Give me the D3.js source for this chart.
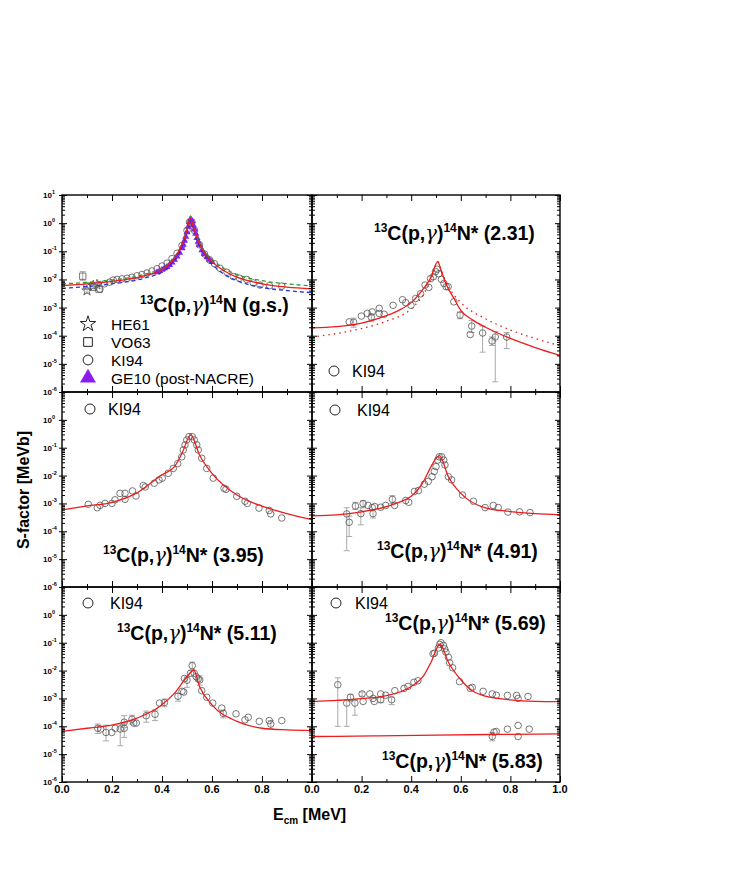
<!DOCTYPE html>
<html>
<head>
<meta charset="utf-8">
<script src="https://cdn.jsdelivr.net/npm/d3@7"></script>
<style>
  body { margin: 0; background: #fff; }
  text { font-family: Arial, "Liberation Sans", sans-serif; }
</style>
</head>
<body>
<svg id="chart"></svg>
<script>
// ---- data (E_cm in MeV, S-factor in MeV b) ----
// ground state panel
const gsFitRed = [[0, 6.0e-3], [0.1, 7.0e-3], [0.2, 8.5e-3], [0.3, 1.15e-2], [0.35, 1.5e-2], [0.4, 2.2e-2], [0.44, 4.5e-2], [0.47, 0.11], [0.49, 0.3], [0.5, 0.6], [0.513, 1.5], [0.525, 0.75], [0.54, 0.3], [0.56, 0.12], [0.6, 4.3e-2], [0.65, 2.0e-2], [0.7, 1.2e-2], [0.8, 7.0e-3], [0.9, 5.3e-3], [1.0, 4.6e-3]];
const gsFitGreen = [[0, 7.0e-3], [0.1, 7.8e-3], [0.2, 9.5e-3], [0.3, 1.3e-2], [0.35, 1.7e-2], [0.4, 2.5e-2], [0.44, 5.0e-2], [0.47, 0.12], [0.49, 0.33], [0.5, 0.65], [0.513, 1.7], [0.525, 0.85], [0.54, 0.35], [0.56, 0.14], [0.6, 5.2e-2], [0.65, 2.4e-2], [0.7, 1.5e-2], [0.8, 9.0e-3], [0.9, 7.0e-3], [1.0, 5.8e-3]];
const gsFitBlue = [[0, 4.8e-3], [0.1, 5.6e-3], [0.2, 7.0e-3], [0.3, 9.5e-3], [0.35, 1.25e-2], [0.4, 1.8e-2], [0.44, 3.7e-2], [0.47, 9.0e-2], [0.49, 0.25], [0.5, 0.5], [0.513, 1.35], [0.525, 0.65], [0.54, 0.25], [0.56, 0.1], [0.6, 3.5e-2], [0.65, 1.5e-2], [0.7, 9.0e-3], [0.8, 5.2e-3], [0.9, 4.0e-3], [1.0, 3.4e-3]];
const gsHE61 = [[0.10, 4.0e-3, 3.2e-3, 5.0e-3], [0.125, 6.0e-3], [0.14, 6.5e-3]];
const gsVO63 = [[0.083, 1.3e-2, 9.0e-3, 1.9e-2], [0.10, 5.8e-3], [0.124, 5.2e-3], [0.148, 4.5e-3]];
const gsKI94 = [[0.152, 4.5e-3], [0.17, 7e-3], [0.19, 8e-3], [0.205, 9.5e-3], [0.22, 1.0e-2], [0.24, 1.05e-2], [0.26, 1.1e-2], [0.28, 1.2e-2], [0.30, 1.35e-2], [0.32, 1.5e-2], [0.34, 1.7e-2], [0.36, 2.0e-2], [0.38, 2.4e-2], [0.40, 3.0e-2], [0.42, 3.8e-2], [0.44, 5.5e-2], [0.46, 8.5e-2], [0.48, 0.16], [0.50, 0.55], [0.51, 1.1], [0.52, 1.1], [0.53, 0.55], [0.55, 0.17], [0.57, 8e-2], [0.59, 5e-2], [0.61, 3.6e-2], [0.632, 2.5e-2], [0.66, 1.8e-2], [0.685, 1.27e-2], [0.71, 1.1e-2], [0.739, 1.0e-2], [0.765, 7.5e-3], [0.792, 6.3e-3], [0.83, 6.0e-3], [0.879, 5.8e-3]];
const gsGE10 = [[0.38, 1.8e-2], [0.39, 2.0e-2], [0.40, 2.2e-2], [0.41, 2.5e-2], [0.42, 2.8e-2], [0.43, 3.3e-2], [0.44, 4.0e-2], [0.45, 5.0e-2], [0.46, 6.5e-2], [0.47, 9.0e-2], [0.48, 0.13], [0.485, 0.17], [0.49, 0.24], [0.495, 0.33], [0.50, 0.48], [0.505, 0.75], [0.51, 1.1], [0.515, 1.4], [0.52, 1.2], [0.525, 0.85], [0.53, 0.6], [0.535, 0.42], [0.54, 0.3], [0.545, 0.22], [0.55, 0.17], [0.56, 0.11], [0.57, 8e-2], [0.58, 6.2e-2], [0.59, 5e-2], [0.6, 4.2e-2]];

// 2.31 MeV state
const fit231 = [[0, 1.9e-4], [0.1, 2.1e-4], [0.2, 2.8e-4], [0.3, 5.2e-4], [0.35, 8e-4], [0.4, 1.5e-3], [0.45, 4.8e-3], [0.48, 1.2e-2], [0.507, 4.3e-2], [0.52, 2.2e-2], [0.54, 7e-3], [0.57, 2.3e-3], [0.6, 8e-4], [0.65, 3.5e-4], [0.7, 2.0e-4], [0.8, 8e-5], [0.9, 3.8e-5], [1.0, 2.0e-5]];
const fit231Dot = [[0, 9e-5], [0.1, 1.2e-4], [0.2, 1.8e-4], [0.3, 3.3e-4], [0.4, 9e-4], [0.45, 3e-3], [0.48, 1.0e-2], [0.507, 4.3e-2], [0.52, 2.3e-2], [0.54, 8e-3], [0.57, 3e-3], [0.6, 1.5e-3], [0.7, 4e-4], [0.8, 1.6e-4], [0.9, 8e-5], [1.0, 4.4e-5]];
const ki231 = [[0.150, 3.1e-4], [0.168, 3.0e-4, 2.0e-4, 4.2e-4], [0.199, 5.0e-4], [0.223, 6.2e-4], [0.239, 4.6e-4, 3.3e-4, 6e-4], [0.243, 7.0e-4], [0.271, 9.4e-4], [0.271, 6.2e-4], [0.291, 5.8e-4], [0.327, 1.2e-3], [0.365, 1.9e-3], [0.378, 1.5e-3], [0.399, 1.2e-3], [0.418, 2.1e-3], [0.438, 3.1e-3], [0.456, 6.3e-3], [0.471, 5.2e-3], [0.478, 1.07e-2], [0.489, 1.25e-2], [0.498, 1.9e-2], [0.505, 2.3e-2], [0.511, 1.6e-2], [0.522, 1.0e-2], [0.532, 7.2e-3], [0.541, 5.5e-3], [0.549, 5.5e-3], [0.572, 1.6e-3], [0.597, 5.4e-4, 4.0e-4, 7e-4], [0.644, 2.2e-4, 1.3e-4, 3.5e-4], [0.638, 1.1e-4], [0.688, 1.25e-4, 2.6e-5, 2.2e-4], [0.726, 6.5e-5, 4.5e-5, 9e-5], [0.739, 9e-5, 2.3e-6, 1.4e-4], [0.785, 9e-5, 3.5e-5, 1.3e-4]];

// 3.95 MeV state
const fit395 = [[0, 5.9e-4], [0.1, 8.1e-4], [0.2, 1.1e-3], [0.3, 2.4e-3], [0.4, 1.07e-2], [0.45, 2.1e-2], [0.48, 6.3e-2], [0.515, 0.29], [0.55, 5.5e-2], [0.6, 1.2e-2], [0.7, 2.0e-3], [0.8, 8.0e-4], [0.9, 4.3e-4], [1.0, 2.6e-4]];
const ki395 = [[0.105, 9.3e-4], [0.141, 7e-4], [0.152, 8.5e-4], [0.172, 1.0e-3], [0.2, 1.0e-3], [0.212, 1.35e-3], [0.232, 2.3e-3], [0.252, 2.3e-3], [0.252, 1.4e-3], [0.282, 2.8e-3], [0.296, 1.85e-3], [0.325, 4.4e-3], [0.333, 3.9e-3], [0.369, 5.3e-3], [0.388, 7e-3], [0.401, 8.1e-3], [0.425, 1.2e-2], [0.445, 1.8e-2], [0.463, 2.7e-2], [0.479, 4.7e-2], [0.485, 8.3e-2], [0.492, 0.126], [0.499, 0.19], [0.508, 0.25], [0.521, 0.25], [0.529, 0.19], [0.539, 0.126], [0.545, 8.3e-2], [0.559, 4.2e-2], [0.579, 1.8e-2], [0.605, 8.1e-3], [0.648, 3.5e-3], [0.656, 3.2e-3], [0.699, 1.8e-3], [0.732, 1.2e-3], [0.741, 1.0e-3], [0.788, 6.8e-4], [0.829, 5.6e-4], [0.835, 4.2e-4], [0.879, 3.0e-4]];

// 4.91 MeV state
const fit491 = [[0, 3.6e-4], [0.1, 3.9e-4], [0.2, 5.0e-4], [0.3, 7.7e-4], [0.35, 1.1e-3], [0.4, 1.8e-3], [0.45, 6.2e-3], [0.48, 2.1e-2], [0.514, 5.2e-2], [0.55, 9.1e-3], [0.6, 2.3e-3], [0.7, 6.9e-4], [0.8, 5.1e-4], [0.9, 4.3e-4], [1.0, 3.9e-4]];
const ki491 = [[0.14, 4.2e-4, 2e-5, 7e-4], [0.15, 2.1e-4, 6.5e-5, 3.5e-4], [0.175, 8.1e-4, 6e-4, 1.1e-3], [0.197, 4.3e-4, 1.7e-4, 7e-4], [0.206, 9.8e-4, 7e-4, 1.25e-3], [0.226, 8.5e-4], [0.243, 7.1e-4], [0.246, 4.3e-4, 3e-4, 6e-4], [0.253, 7.7e-4], [0.277, 7.3e-4], [0.297, 8.5e-4], [0.324, 1.4e-3, 1.0e-3, 1.9e-3], [0.333, 8.5e-4], [0.378, 1.27e-3], [0.39, 1.1e-3], [0.413, 2.7e-3], [0.429, 2.9e-3], [0.453, 4.9e-3], [0.469, 6.2e-3], [0.484, 9.1e-3], [0.493, 1.4e-2], [0.5, 2.1e-2], [0.507, 3.6e-2], [0.513, 4.7e-2], [0.523, 4.7e-2], [0.531, 3.6e-2], [0.536, 2.4e-2], [0.55, 9.1e-3], [0.563, 7e-3], [0.607, 2.0e-3], [0.651, 1.2e-3], [0.698, 7.1e-4], [0.731, 8.5e-4], [0.751, 7.1e-4], [0.79, 4.9e-4], [0.837, 5.0e-4], [0.879, 4.7e-4]];

// 5.11 MeV state
const fit511 = [[0, 6.5e-5], [0.1, 8.5e-5], [0.2, 1.1e-4], [0.3, 1.95e-4], [0.4, 5.9e-4], [0.45, 1.55e-3], [0.5, 6.0e-3], [0.527, 1.05e-2], [0.55, 2.7e-3], [0.6, 5.9e-4], [0.7, 1.5e-4], [0.8, 8.5e-5], [0.9, 7.4e-5], [1.0, 7.0e-5]];
const ki511 = [[0.143, 8.5e-5, 5.5e-5, 1.2e-4], [0.155, 8e-5], [0.176, 6e-5, 3e-5, 1.1e-4], [0.199, 6e-5], [0.213, 8.5e-5], [0.233, 8e-5, 2e-5, 1.2e-4], [0.249, 8.5e-5, 4e-5, 1.3e-4], [0.249, 1.4e-4, 9e-5, 2.4e-4], [0.28, 1.8e-4, 1.2e-4, 2.5e-4], [0.287, 1.3e-4], [0.297, 1.3e-4], [0.337, 2.4e-4, 1.4e-4, 3.5e-4], [0.372, 2.7e-4, 1.6e-4, 3.8e-4], [0.39, 6.8e-4], [0.41, 7.1e-4, 5e-4, 9.5e-4], [0.464, 1.2e-3, 8e-4, 1.5e-3], [0.48, 1.8e-3], [0.487, 1.7e-3], [0.49, 5.2e-3], [0.50, 4.5e-3, 2.5e-3, 6e-3], [0.514, 8e-3], [0.521, 1.5e-2, 1.05e-2, 2.0e-2], [0.529, 8e-3], [0.537, 6e-3], [0.545, 5e-3], [0.551, 4.6e-3, 3e-3, 6.5e-3], [0.559, 1.9e-3], [0.579, 1.1e-3], [0.603, 6.8e-4], [0.639, 4.5e-4], [0.645, 2.9e-4, 2e-4, 3.8e-4], [0.696, 2.8e-4], [0.732, 1.7e-4], [0.745, 2.1e-4], [0.789, 1.5e-4], [0.829, 1.6e-4], [0.835, 1.2e-4, 8e-5, 1.6e-4], [0.879, 1.6e-4]];

// 5.69 and 5.83 MeV states
const fit569 = [[0, 7.7e-4], [0.1, 8.5e-4], [0.2, 9.8e-4], [0.3, 1.26e-3], [0.4, 2.7e-3], [0.45, 6.5e-3], [0.48, 2.0e-2], [0.516, 9.0e-2], [0.55, 2.0e-2], [0.6, 4.7e-3], [0.65, 1.8e-3], [0.7, 1.2e-3], [0.8, 8.9e-4], [0.9, 7.9e-4], [1.0, 7.7e-4]];
const fit583 = [[0, 4.3e-5], [0.25, 4.5e-5], [0.5, 4.8e-5], [0.75, 5.1e-5], [1.0, 5.3e-5]];
const ki569 = [[0.104, 3.1e-3, 1e-4, 5.5e-3], [0.14, 6.8e-4, 1e-4, 9e-4], [0.155, 1.1e-3, 8e-4, 1.4e-3], [0.173, 6.8e-4, 2.5e-4, 9e-4], [0.202, 1.45e-3, 1.2e-3, 1.7e-3], [0.206, 7.8e-4], [0.233, 1.45e-3], [0.246, 1.0e-3], [0.251, 7.8e-4], [0.277, 1.45e-3], [0.277, 9e-4, 7e-4, 1.1e-3], [0.297, 1.3e-3], [0.321, 9e-4, 6e-4, 1.1e-3], [0.334, 1.9e-3], [0.371, 2.3e-3], [0.387, 2.7e-3], [0.411, 3.8e-3], [0.427, 4.3e-3], [0.488, 4.0e-2], [0.494, 4.2e-2], [0.51, 6.5e-2], [0.515, 8.7e-2], [0.52, 0.1], [0.53, 8e-2], [0.535, 6e-2], [0.54, 4.6e-2], [0.55, 3e-2], [0.555, 1.9e-2], [0.567, 1.26e-2], [0.595, 4e-3], [0.638, 2.3e-3], [0.646, 2.5e-3], [0.69, 1.8e-3], [0.727, 1.45e-3], [0.743, 1.3e-3], [0.788, 1.28e-3], [0.825, 1.28e-3], [0.831, 1.0e-3], [0.871, 1.18e-3]];
const ki583 = [[0.727, 4.3e-5, 3e-5, 6e-5], [0.734, 6.2e-5], [0.743, 6.5e-5], [0.788, 7.9e-5], [0.831, 1.07e-4], [0.831, 4.3e-5], [0.876, 7.9e-5]];

const yDecades = [1e-6, 1e-5, 1e-4, 1e-3, 1e-2, 1e-1, 1, 10];
const yExponents = [-6, -5, -4, -3, -2, -1, 0, 1];
const xMajor = [0, 0.2, 0.4, 0.6, 0.8, 1.0];
const xMinor = [0.1, 0.3, 0.5, 0.7, 0.9];
const gsLegend = ['HE61', 'VO63', 'KI94', 'GE10 (post-NACRE)'];

// ---- layout ----
const width = 747, height = 872;
const cols = [[62, 312], [312, 560]];
const rows = [[195, 392], [392, 587], [587, 782]];
const red = '#ee1c1c', grey = '#555', errGrey = '#aaa', purple = '#8a1cf0';

const svg = d3.select('#chart').attr('width', width).attr('height', height);

function makePanel(col, row, id) {
    const x = d3.scaleLinear().domain([0, 1]).range(cols[col]);
    const y = d3.scaleLog().domain([1e-6, 10]).range([rows[row][1], rows[row][0]]);
    const g = svg.append('g');
    svg.append('clipPath').attr('id', 'clip' + id)
        .append('rect')
        .attr('x', cols[col][0]).attr('y', rows[row][0])
        .attr('width', cols[col][1] - cols[col][0]).attr('height', rows[row][1] - rows[row][0]);
    const plot = g.append('g').attr('clip-path', `url(#clip${id})`);
    return { x, y, g, plot, col, row };
}

function drawPoints(p, data, shape) {
    const withErr = data.filter(d => d.length > 2);
    p.plot.selectAll(null).data(withErr).enter().append('path')
        .attr('d', d => {
            const cx = p.x(d[0]), y1 = p.y(d[2]), y2 = p.y(d[3]);
            return `M${cx},${y1}V${y2}M${cx - 3},${y1}H${cx + 3}M${cx - 3},${y2}H${cx + 3}`;
        })
        .attr('stroke', errGrey).attr('stroke-width', 1).attr('fill', 'none');
    const sym = d3.symbol().type(shape || d3.symbolCircle).size(shape === d3.symbolSquare ? 40 : 34);
    p.plot.selectAll(null).data(data).enter().append('path')
        .attr('d', sym)
        .attr('transform', d => `translate(${p.x(d[0])},${p.y(d[1])})`)
        .attr('fill', 'none').attr('stroke', grey).attr('stroke-width', 0.8);
}

function drawCurve(p, data, color, dash) {
    const line = d3.line().x(d => p.x(d[0])).y(d => p.y(d[1])).curve(d3.curveMonotoneX);
    p.plot.append('path').datum(data)
        .attr('d', line)
        .attr('fill', 'none').attr('stroke', color).attr('stroke-width', 1.3)
        .attr('stroke-dasharray', dash || null);
}

function drawFrame(p) {
    const [x0, x1] = cols[p.col], [y0, y1] = rows[p.row];
    const minorY = p.y.ticks().filter(v => !yDecades.some(m => Math.abs(v / m - 1) < 1e-6));
    const noDomain = s => s.select('.domain').remove();
    // y ticks, left and right
    p.g.append('g').attr('transform', `translate(${x0},0)`)
        .call(d3.axisRight(p.y).tickValues(yDecades).tickSize(5).tickFormat('')).call(noDomain);
    p.g.append('g').attr('transform', `translate(${x0},0)`)
        .call(d3.axisRight(p.y).tickValues(minorY).tickSize(3).tickFormat('')).call(noDomain);
    p.g.append('g').attr('transform', `translate(${x1},0)`)
        .call(d3.axisLeft(p.y).tickValues(yDecades).tickSize(5).tickFormat('')).call(noDomain);
    p.g.append('g').attr('transform', `translate(${x1},0)`)
        .call(d3.axisLeft(p.y).tickValues(minorY).tickSize(3).tickFormat('')).call(noDomain);
    if (p.col === 0) {
        p.g.append('g').attr('transform', `translate(${x0},0)`)
            .call(d3.axisLeft(p.y).tickValues(yDecades).tickSize(3).tickFormat('')).call(noDomain);
    }
    // x ticks, bottom and top
    p.g.append('g').attr('transform', `translate(0,${y1})`)
        .call(d3.axisTop(p.x).tickValues(xMajor).tickSize(6).tickFormat('')).call(noDomain);
    p.g.append('g').attr('transform', `translate(0,${y1})`)
        .call(d3.axisTop(p.x).tickValues(xMinor).tickSize(3).tickFormat('')).call(noDomain);
    p.g.append('g').attr('transform', `translate(0,${y0})`)
        .call(d3.axisBottom(p.x).tickValues(xMajor).tickSize(6).tickFormat('')).call(noDomain);
    p.g.append('g').attr('transform', `translate(0,${y0})`)
        .call(d3.axisBottom(p.x).tickValues(xMinor).tickSize(3).tickFormat('')).call(noDomain);
    p.g.selectAll('.tick line').attr('stroke', '#000').attr('stroke-width', 1);
    p.g.append('rect')
        .attr('x', x0).attr('y', y0).attr('width', x1 - x0).attr('height', y1 - y0)
        .attr('fill', 'none').attr('stroke', '#000').attr('stroke-width', 1.4);

    // y labels on the left column
    if (p.col === 0) {
        yDecades.forEach((v, i) => {
            if (p.row > 0 && yExponents[i] === 1) return;
            const t = p.g.append('text')
                .attr('x', 43).attr('y', p.y(v) + 3)
                .attr('font-size', 8).attr('font-weight', 'bold');
            t.append('tspan').text('10');
            t.append('tspan').attr('font-size', 5.5).attr('dy', -4).text(yExponents[i]);
        });
    }
    // x labels under the last row
    if (p.row === 2) {
        const vals = p.col === 0 ? xMajor.slice(0, 5) : xMajor;
        p.g.selectAll(null).data(vals).enter().append('text')
            .attr('x', d => p.x(d)).attr('y', 793)
            .attr('text-anchor', 'middle').attr('font-size', 11).attr('font-weight', 'bold')
            .text(d => d.toFixed(1));
    }
}

function title(p, x, y, state) {
    const t = p.g.append('text').attr('x', x).attr('y', y)
        .attr('font-size', 19.5).attr('font-weight', 'bold');
    t.append('tspan').attr('font-size', 12).attr('dy', -8).text('13');
    t.append('tspan').attr('dy', 8).text('C(p,');
    t.append('tspan').attr('font-weight', 'normal').attr('font-family', 'DejaVu Serif').attr('font-style', 'italic').text('γ');
    t.append('tspan').text(')');
    t.append('tspan').attr('font-size', 12).attr('dy', -8).text('14');
    t.append('tspan').attr('dy', 8).text('N' + state);
}

function kiLegend(p, cx, cy, tx) {
    p.g.append('circle').attr('cx', cx).attr('cy', cy).attr('r', 5)
        .attr('fill', 'none').attr('stroke', '#222').attr('stroke-width', 1);
    p.g.append('text').attr('x', tx).attr('y', cy + 5.5).attr('font-size', 16).text('KI94');
}

// ---- panel 1: ground state ----
const p1 = makePanel(0, 0, 1);
drawPoints(p1, gsKI94, d3.symbolCircle);
drawPoints(p1, gsVO63, d3.symbolSquare);
drawPoints(p1, gsHE61, d3.symbolStar);
p1.plot.selectAll(null).data(gsGE10).enter().append('path')
    .attr('d', d3.symbol().type(d3.symbolTriangle).size(22))
    .attr('transform', d => `translate(${p1.x(d[0])},${p1.y(d[1])})`)
    .attr('fill', purple);
drawCurve(p1, gsFitGreen, '#2c9a2c', '4,3');
drawCurve(p1, gsFitBlue, '#1f35e0', '4,3');
drawCurve(p1, gsFitRed, red);
drawFrame(p1);
title(p1, 140, 312, ' (g.s.)');
const legSyms = [d3.symbolStar, d3.symbolSquare, d3.symbolCircle, d3.symbolTriangle];
gsLegend.forEach((name, i) => {
    const cy = 324 + i * 18;
    const isTri = i === 3;
    p1.g.append('path')
        .attr('d', d3.symbol().type(legSyms[i]).size(isTri ? 110 : 75))
        .attr('transform', `translate(88,${cy})`)
        .attr('fill', isTri ? purple : 'none')
        .attr('stroke', isTri ? 'none' : '#222').attr('stroke-width', 1);
    p1.g.append('text').attr('x', 111).attr('y', cy + 5.5).attr('font-size', 15.5).text(name);
});

// ---- panel 2: 2.31 ----
const p2 = makePanel(1, 0, 2);
drawPoints(p2, ki231);
drawCurve(p2, fit231Dot, red, '1.5,4');
drawCurve(p2, fit231, red);
drawFrame(p2);
title(p2, 374, 240, '* (2.31)');
kiLegend(p2, 334, 371, 352);

// ---- panel 3: 3.95 ----
const p3 = makePanel(0, 1, 3);
drawPoints(p3, ki395);
drawCurve(p3, fit395, red);
drawFrame(p3);
title(p3, 103, 562, '* (3.95)');
kiLegend(p3, 90, 409, 108);

// ---- panel 4: 4.91 ----
const p4 = makePanel(1, 1, 4);
drawPoints(p4, ki491);
drawCurve(p4, fit491, red);
drawFrame(p4);
title(p4, 377, 558, '* (4.91)');
kiLegend(p4, 335, 410, 357);

// ---- panel 5: 5.11 ----
const p5 = makePanel(0, 2, 5);
drawPoints(p5, ki511);
drawCurve(p5, fit511, red);
drawFrame(p5);
title(p5, 117, 640, '* (5.11)');
kiLegend(p5, 88, 603, 110);

// ---- panel 6: 5.69 / 5.83 ----
const p6 = makePanel(1, 2, 6);
drawPoints(p6, ki569);
drawPoints(p6, ki583);
drawCurve(p6, fit569, red);
drawCurve(p6, fit583, red);
drawFrame(p6);
title(p6, 385, 630, '* (5.69)');
title(p6, 382, 768, '* (5.83)');
kiLegend(p6, 336, 603, 355);

// ---- axis titles ----
const xt = svg.append('text').attr('x', 273).attr('y', 820)
    .attr('font-size', 16).attr('font-weight', 'bold');
xt.append('tspan').text('E');
xt.append('tspan').attr('font-size', 10).attr('dy', 4).text('cm');
xt.append('tspan').attr('dy', -4).text(' [MeV]');

svg.append('text')
    .attr('transform', 'translate(29,490) rotate(-90)')
    .attr('text-anchor', 'middle').attr('font-size', 16).attr('font-weight', 'bold')
    .text('S-factor [MeVb]');
</script>
</body>
</html>
